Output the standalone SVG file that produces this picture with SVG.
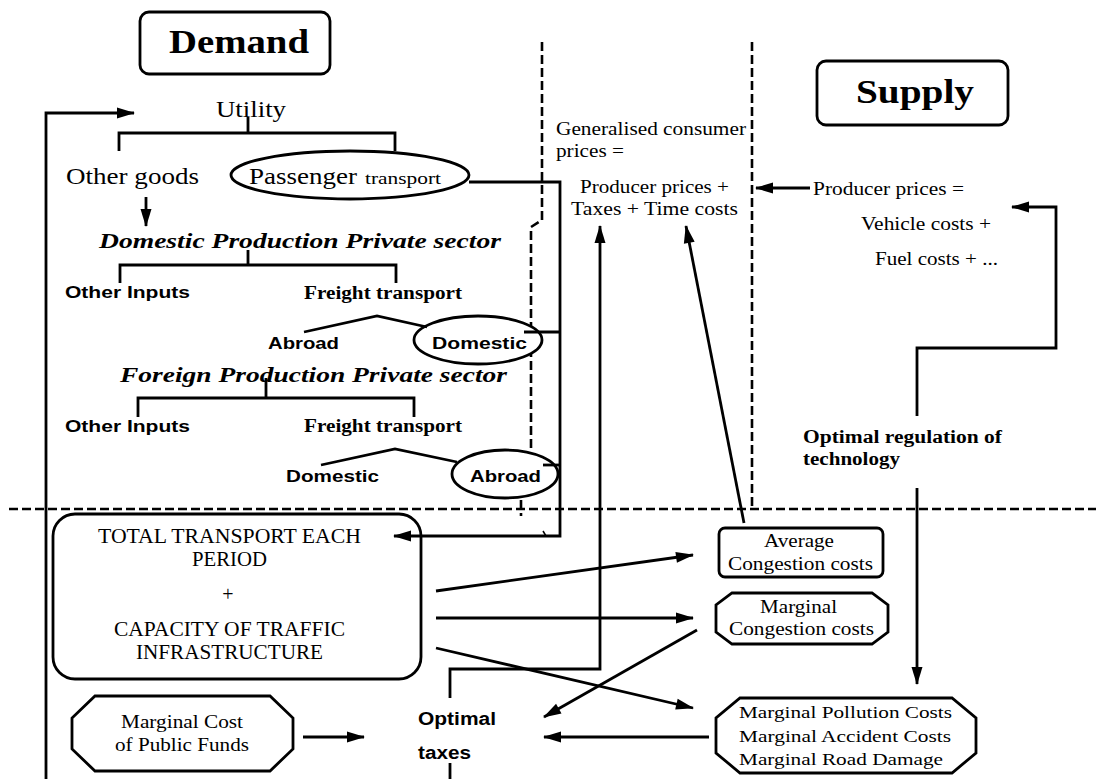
<svg xmlns="http://www.w3.org/2000/svg" width="1096" height="779" viewBox="0 0 1096 779">
  <style>
    .serif { font-family: "Liberation Serif", "Times New Roman", serif; fill: #000; }
    .sans { font-family: "Liberation Sans", Arial, sans-serif; fill: #000; font-weight: bold; }
    .bs { font-weight: bold; }
    .bi { font-weight: bold; font-style: italic; }
    .box { fill: #fff; stroke: #000; stroke-width: 2.8; }
    .ln { fill: none; stroke: #000; stroke-width: 2.8; }
    .dash { fill: none; stroke: #000; stroke-width: 2.6; stroke-dasharray: 9 4; }
  </style>
  <defs>
    <marker id="ah" markerUnits="userSpaceOnUse" markerWidth="20" markerHeight="14" refX="17" refY="5.5" orient="auto" overflow="visible">
      <path d="M0,0 L18,5.5 L0,11 z" fill="#000"/>
    </marker>
  </defs>
  <rect width="1096" height="779" fill="#fff"/>

  <!-- dashed section borders -->
  <g id="borders">
    <path class="dash" d="M542,42 V220 L531,227 V452"/>
    <path class="dash" d="M521,500 V516"/>
    <path class="dash" d="M752,42 V509"/>
    <path class="dash" d="M9,509 H1096"/>
  </g>

  <!-- headings -->
  <g id="demand">
    <rect class="box" x="140" y="12" width="190" height="62" rx="9"/>
    <text class="serif bs" x="169" y="53" font-size="33" textLength="140" lengthAdjust="spacingAndGlyphs">Demand</text>
  </g>
  <g id="supply">
    <rect class="box" x="817" y="61" width="191" height="64" rx="9"/>
    <text class="serif bs" x="856" y="103" font-size="34" textLength="118" lengthAdjust="spacingAndGlyphs">Supply</text>
  </g>

  <!-- demand tree -->
  <g id="utility">
    <text class="serif" x="216" y="117" font-size="24" textLength="70" lengthAdjust="spacingAndGlyphs">Utility</text>
  </g>
  <g id="other-goods">
    <text class="serif" x="66" y="184" font-size="24" textLength="133" lengthAdjust="spacingAndGlyphs">Other goods</text>
  </g>
  <g id="passenger">
    <ellipse class="box" cx="350" cy="175" rx="119" ry="24"/>
    <text class="serif" x="249" y="184" font-size="24" textLength="108" lengthAdjust="spacingAndGlyphs">Passenger</text>
    <text class="serif" x="365" y="184" font-size="17" textLength="76" lengthAdjust="spacingAndGlyphs">transport</text>
  </g>
  <g id="domestic-production">
    <text class="serif bi" x="99" y="248" font-size="22" textLength="402" lengthAdjust="spacingAndGlyphs">Domestic Production Private sector</text>
  </g>
  <g id="dom-other-inputs">
    <text class="sans" x="65" y="298" font-size="17" textLength="125" lengthAdjust="spacingAndGlyphs">Other Inputs</text>
  </g>
  <g id="dom-freight">
    <text class="serif bs" x="304" y="299" font-size="18" textLength="158" lengthAdjust="spacingAndGlyphs">Freight transport</text>
  </g>
  <g id="dom-abroad">
    <text class="sans" x="268" y="349" font-size="17" textLength="71" lengthAdjust="spacingAndGlyphs">Abroad</text>
  </g>
  <g id="dom-domestic">
    <ellipse class="box" cx="478" cy="340" rx="64" ry="24"/>
    <text class="sans" x="432" y="349" font-size="17" textLength="95" lengthAdjust="spacingAndGlyphs">Domestic</text>
  </g>
  <g id="foreign-production">
    <text class="serif bi" x="120" y="382" font-size="22" textLength="387" lengthAdjust="spacingAndGlyphs">Foreign Production Private sector</text>
  </g>
  <g id="for-other-inputs">
    <text class="sans" x="65" y="432" font-size="17" textLength="125" lengthAdjust="spacingAndGlyphs">Other Inputs</text>
  </g>
  <g id="for-freight">
    <text class="serif bs" x="304" y="432" font-size="18" textLength="158" lengthAdjust="spacingAndGlyphs">Freight transport</text>
  </g>
  <g id="for-domestic">
    <text class="sans" x="286" y="482" font-size="17" textLength="93" lengthAdjust="spacingAndGlyphs">Domestic</text>
  </g>
  <g id="for-abroad">
    <ellipse class="box" cx="505" cy="474" rx="53" ry="24"/>
    <text class="sans" x="470" y="482" font-size="17" textLength="71" lengthAdjust="spacingAndGlyphs">Abroad</text>
  </g>

  <!-- prices -->
  <g id="consumer-prices">
    <text class="serif" x="556" y="135" font-size="19" textLength="190" lengthAdjust="spacingAndGlyphs">Generalised consumer</text>
    <text class="serif" x="556" y="157" font-size="19" textLength="68" lengthAdjust="spacingAndGlyphs">prices =</text>
    <text class="serif" x="580" y="193" font-size="19" textLength="149" lengthAdjust="spacingAndGlyphs">Producer prices +</text>
    <text class="serif" x="571" y="215" font-size="19" textLength="167" lengthAdjust="spacingAndGlyphs">Taxes + Time costs</text>
  </g>
  <g id="producer-prices">
    <text class="serif" x="813" y="195" font-size="19" textLength="151" lengthAdjust="spacingAndGlyphs">Producer prices =</text>
    <text class="serif" x="861" y="230" font-size="19" textLength="130" lengthAdjust="spacingAndGlyphs">Vehicle costs +</text>
    <text class="serif" x="875" y="265" font-size="19" textLength="123" lengthAdjust="spacingAndGlyphs">Fuel costs + ...</text>
  </g>
  <g id="regulation">
    <text class="serif bs" x="803" y="443" font-size="18" textLength="199" lengthAdjust="spacingAndGlyphs">Optimal regulation of</text>
    <text class="serif bs" x="803" y="465" font-size="18" textLength="97" lengthAdjust="spacingAndGlyphs">technology</text>
  </g>

  <!-- lower section -->
  <g id="total-transport">
    <rect class="box" x="53" y="514" width="368" height="165" rx="22"/>
    <text class="serif" x="98" y="543" font-size="20" textLength="263" lengthAdjust="spacingAndGlyphs">TOTAL TRANSPORT EACH</text>
    <text class="serif" x="192" y="566" font-size="20" textLength="75" lengthAdjust="spacingAndGlyphs">PERIOD</text>
    <text class="serif" x="228" y="601" font-size="20" text-anchor="middle">+</text>
    <text class="serif" x="114" y="636" font-size="20" textLength="231" lengthAdjust="spacingAndGlyphs">CAPACITY OF TRAFFIC</text>
    <text class="serif" x="136" y="659" font-size="20" textLength="187" lengthAdjust="spacingAndGlyphs">INFRASTRUCTURE</text>
  </g>
  <g id="average-congestion">
    <rect class="box" x="719" y="528" width="164" height="49" rx="6"/>
    <text class="serif" x="764" y="547" font-size="18" textLength="70" lengthAdjust="spacingAndGlyphs">Average</text>
    <text class="serif" x="728" y="570" font-size="18" textLength="145" lengthAdjust="spacingAndGlyphs">Congestion costs</text>
  </g>
  <g id="marginal-congestion">
    <polygon class="box" points="732,593 872,593 888,605 888,632 872,644 732,644 716,632 716,605"/>
    <text class="serif" x="760" y="613" font-size="18" textLength="77" lengthAdjust="spacingAndGlyphs">Marginal</text>
    <text class="serif" x="729" y="635" font-size="18" textLength="145" lengthAdjust="spacingAndGlyphs">Congestion costs</text>
  </g>
  <g id="external-costs">
    <polygon class="box" points="740,698 952,698 976,718 976,753 952,773 740,773 716,753 716,718"/>
    <text class="serif" x="739" y="718" font-size="17" textLength="213" lengthAdjust="spacingAndGlyphs">Marginal Pollution Costs</text>
    <text class="serif" x="739" y="742" font-size="17" textLength="212" lengthAdjust="spacingAndGlyphs">Marginal Accident Costs</text>
    <text class="serif" x="739" y="765" font-size="17" textLength="204" lengthAdjust="spacingAndGlyphs">Marginal Road Damage</text>
  </g>
  <g id="public-funds">
    <polygon class="box" points="95,696 270,696 293,718 293,749 270,771 95,771 72,749 72,718"/>
    <text class="serif" x="121" y="728" font-size="19" textLength="122" lengthAdjust="spacingAndGlyphs">Marginal Cost</text>
    <text class="serif" x="115" y="751" font-size="19" textLength="134" lengthAdjust="spacingAndGlyphs">of Public Funds</text>
  </g>
  <g id="optimal-taxes">
    <text class="sans" x="418" y="725" font-size="18" textLength="78" lengthAdjust="spacingAndGlyphs">Optimal</text>
    <text class="sans" x="418" y="759" font-size="18" textLength="53" lengthAdjust="spacingAndGlyphs">taxes</text>
  </g>

  <!-- connectors -->
  <g id="connectors">
    <!-- tree brackets -->
    <path class="ln" d="M248,117 V133 M119,151 V133 H395 V151"/>
    <path class="ln" d="M248,250 V265 M120,283 V265 H396 V283"/>
    <path class="ln" d="M266,378 V398 M138,417 V398 H414 V417"/>
    <path class="ln" d="M304,332 L377,316 L427,327"/>
    <path class="ln" d="M321,465 L395,449 L457,462"/>
    <path class="ln" d="M146,197 V226" marker-end="url(#ah)"/>
    <!-- transport demand collected into total transport -->
    <path class="ln" d="M469,182 H560 V536 H394" marker-end="url(#ah)"/>
    <path class="ln" d="M524,332 H560"/>
    <path class="ln" d="M543,465 H560"/>
    <path d="M543,531 L546,536" stroke="#000" stroke-width="1.5"/>
    <!-- feedback to utility -->
    <path class="ln" d="M46,779 V113 H134" marker-end="url(#ah)"/>
    <!-- producer prices -->
    <path class="ln" d="M810,188 H756" marker-end="url(#ah)"/>
    <path class="ln" d="M917,416 V348 H1056 V207 H1012" marker-end="url(#ah)"/>
    <path class="ln" d="M917,488 V684" marker-end="url(#ah)"/>
    <!-- congestion and taxes to consumer prices -->
    <path class="ln" d="M744,523 L686,226" marker-end="url(#ah)"/>
    <path class="ln" d="M450,698 V669 H600 V226" marker-end="url(#ah)"/>
    <path class="ln" d="M450,763 V779"/>
    <!-- total transport effects -->
    <path class="ln" d="M436,591 L693,555" marker-end="url(#ah)"/>
    <path class="ln" d="M436,618 H693" marker-end="url(#ah)"/>
    <path class="ln" d="M436,648 L693,708" marker-end="url(#ah)"/>
    <!-- inputs to optimal taxes -->
    <path class="ln" d="M697,630 L544,717" marker-end="url(#ah)"/>
    <path class="ln" d="M709,737 H544" marker-end="url(#ah)"/>
    <path class="ln" d="M303,737 H364" marker-end="url(#ah)"/>
  </g>
</svg>
